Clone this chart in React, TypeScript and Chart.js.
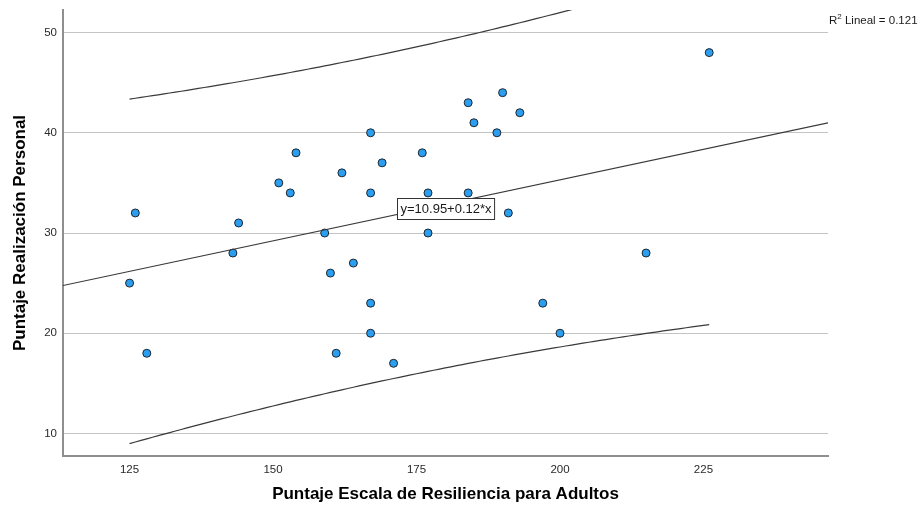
import { useEffect, useRef } from "react";
import { Chart, registerables } from "chart.js";

Chart.register(...registerables);

// Puntaje Escala de Resiliencia para Adultos (x) vs Puntaje Realización Personal (y)
const resiliencia = [
  125, 126, 128, 143, 144, 151, 153, 154, 159, 160, 161, 162, 164, 167, 167, 167, 167,
  169, 171, 176, 177, 177, 184, 184, 185, 189, 190, 191, 193, 197, 200, 215, 226,
];
const realizacion = [
  25, 32, 18, 28, 31, 35, 34, 38, 30, 26, 18, 36, 27, 40, 34, 23, 20,
  37, 17, 38, 34, 30, 43, 34, 41, 40, 44, 32, 42, 23, 20, 28, 48,
];

const X_TICKS = [125, 150, 175, 200, 225];
const Y_TICKS = [10, 20, 30, 40, 50];
const X_MIN = 113.4;
const X_MAX = 246.7;
const Y_MIN = 7.75;
const Y_MAX = 52.25;

// Linear fit y = a + b*x and its fit statistic
const FIT_INTERCEPT = 10.95;
const FIT_SLOPE = 0.1218;
const R2_TEXT = "0.121";
const T_CRIT = 2.04; // t(0.975, df = 31)

const X_TITLE = "Puntaje Escala de Resiliencia para Adultos";
const Y_TITLE = "Puntaje Realización Personal";
const FONT = "'Liberation Sans', Arial, sans-serif";

const fit = (x: number) => FIT_INTERCEPT + FIT_SLOPE * x;

// 95% prediction interval for individual values around the fitted line
function predictionBands() {
  const n = resiliencia.length;
  const xbar = resiliencia.reduce((s, v) => s + v, 0) / n;
  const sxx = resiliencia.reduce((s, v) => s + (v - xbar) ** 2, 0);
  const sse = resiliencia.reduce((s, v, i) => s + (realizacion[i] - fit(v)) ** 2, 0);
  const se = Math.sqrt(sse / (n - 2));
  const lo = Math.min(...resiliencia);
  const hi = Math.max(...resiliencia);
  const upper: { x: number; y: number }[] = [];
  const lower: { x: number; y: number }[] = [];
  for (let x = lo; x <= hi + 1e-9; x += 1) {
    const h = T_CRIT * se * Math.sqrt(1 + 1 / n + (x - xbar) ** 2 / sxx);
    upper.push({ x, y: fit(x) + h });
    lower.push({ x, y: fit(x) - h });
  }
  return { upper, lower };
}

const annotations = {
  id: "fitAnnotations",
  afterDatasetsDraw(chart: any) {
    const { ctx, chartArea, scales } = chart;
    // equation box on the fitted line, centred in the plot
    const cx = (chartArea.left + chartArea.right) / 2;
    const xv = scales.x.getValueForPixel(cx);
    const cy = scales.y.getPixelForValue(fit(xv)) + 4;
    const label = `y=${FIT_INTERCEPT.toFixed(2)}+${FIT_SLOPE.toFixed(2)}*x`;
    ctx.save();
    ctx.font = `13px ${FONT}`;
    const w = ctx.measureText(label).width + 6;
    const h = 21;
    const bx = Math.round(cx - w / 2) + 0.5;
    const by = Math.round(cy - h / 2) + 0.5;
    ctx.fillStyle = "#ffffff";
    ctx.fillRect(bx, by, w, h);
    ctx.strokeStyle = "#333333";
    ctx.lineWidth = 1;
    ctx.strokeRect(bx, by, w, h);
    ctx.fillStyle = "#1a1a1a";
    ctx.textAlign = "center";
    ctx.textBaseline = "middle";
    ctx.fillText(label, bx + w / 2, by + h / 2 + 0.5);
    ctx.restore();
  },
  afterDraw(chart: any) {
    const { ctx, chartArea } = chart;
    ctx.save();
    ctx.fillStyle = "#1a1a1a";
    ctx.textBaseline = "alphabetic";
    ctx.textAlign = "left";
    let x = chartArea.right + 1;
    const base = 23.5;
    ctx.font = `11.5px ${FONT}`;
    ctx.fillText("R", x, base);
    x += ctx.measureText("R").width;
    ctx.font = `8px ${FONT}`;
    ctx.fillText("2", x, base - 5);
    x += ctx.measureText("2").width;
    ctx.font = `11.5px ${FONT}`;
    ctx.fillText(` Lineal = ${R2_TEXT}`, x, base);
    ctx.restore();
  },
};

export default function App() {
  const canvasRef = useRef<HTMLCanvasElement | null>(null);

  useEffect(() => {
    document.body.style.margin = "0";
    const canvas = canvasRef.current;
    if (!canvas) return;
    const { upper, lower } = predictionBands();
    const points = resiliencia.map((x, i) => ({ x, y: realizacion[i] }));

    const lineStyle = {
      type: "line" as const,
      borderColor: "#3a3a3a",
      borderWidth: 1.2,
      pointRadius: 0,
      fill: false,
      tension: 0,
    };

    const chart = new Chart(canvas, {
      type: "scatter",
      data: {
        datasets: [
          {
            ...lineStyle,
            data: [
              { x: X_MIN, y: fit(X_MIN) },
              { x: X_MAX, y: fit(X_MAX) },
            ],
          },
          { ...lineStyle, data: upper },
          { ...lineStyle, data: lower },
          {
            type: "scatter",
            data: points,
            pointRadius: 4,
            pointBorderWidth: 1,
            pointBackgroundColor: "#2b9ef0",
            pointBorderColor: "#1c2630",
          },
        ],
      },
      options: {
        animation: false,
        responsive: false,
        maintainAspectRatio: false,
        events: [],
        layout: { padding: { top: 10, right: 91, left: 0, bottom: 0 } },
        plugins: {
          legend: { display: false },
          tooltip: { enabled: false },
        },
        scales: {
          x: {
            type: "linear",
            min: X_MIN,
            max: X_MAX,
            afterBuildTicks: (s: any) => {
              s.ticks = X_TICKS.map((value) => ({ value }));
            },
            afterFit: (s: any) => {
              s.height = 52;
              s.paddingLeft = 0;
              s.paddingRight = 0;
            },
            grid: { display: false, drawTicks: false },
            border: { display: true, color: "#8f8f8f", width: 2 },
            ticks: {
              padding: 7,
              color: "#2a2a2a",
              font: { family: FONT, size: 11.5 },
              callback: (v: any) => String(v),
            },
            title: {
              display: true,
              text: X_TITLE,
              color: "#000000",
              font: { family: FONT, size: 17, weight: "bold" },
              padding: { top: 0, bottom: 3 },
            },
          },
          y: {
            type: "linear",
            min: Y_MIN,
            max: Y_MAX,
            afterBuildTicks: (s: any) => {
              s.ticks = Y_TICKS.map((value) => ({ value }));
            },
            afterFit: (s: any) => {
              s.width = 63;
              s.paddingTop = 0;
              s.paddingBottom = 0;
            },
            grid: { display: true, drawTicks: false, color: "#c4c4c4", lineWidth: 1 },
            border: { display: true, color: "#8f8f8f", width: 2 },
            ticks: {
              padding: 6,
              color: "#2a2a2a",
              font: { family: FONT, size: 11.5 },
              callback: (v: any) => String(v),
            },
            title: {
              display: true,
              text: Y_TITLE,
              color: "#000000",
              font: { family: FONT, size: 17, weight: "bold" },
              padding: { top: 10, bottom: 0 },
            },
          },
        },
      },
      plugins: [annotations],
    } as any);

    return () => chart.destroy();
  }, []);

  return (
    <div style={{ width: 919, height: 508, background: "#ffffff" }}>
      <canvas ref={canvasRef} width={919} height={508} style={{ display: "block" }} />
    </div>
  );
}
